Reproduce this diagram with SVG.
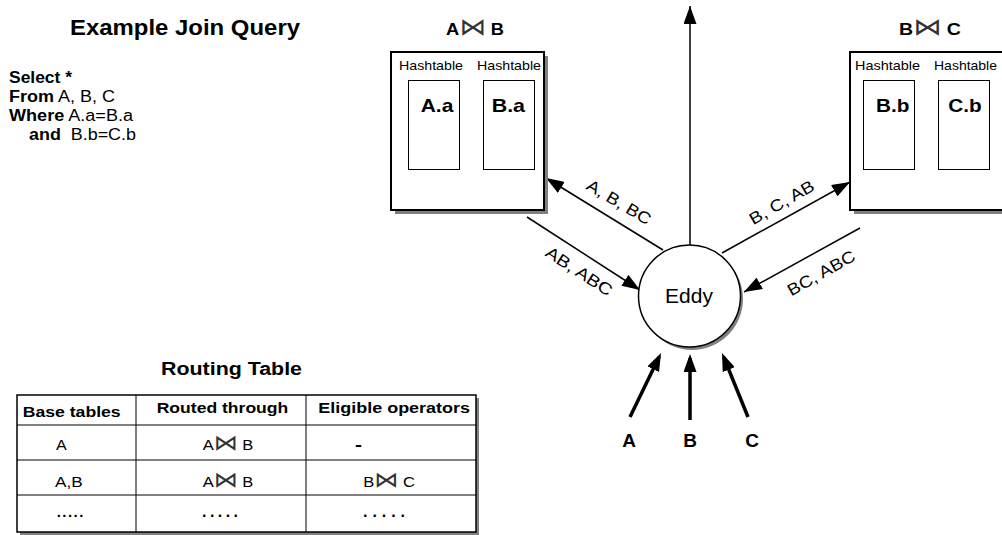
<svg xmlns="http://www.w3.org/2000/svg" width="1002" height="535" viewBox="0 0 1002 535">
<style>
text{font-family:"Liberation Sans",Arial,sans-serif;fill:#000}
.b{font-weight:bold}
.bt{font-family:"DejaVu Sans",sans-serif;font-weight:normal;font-size:1.45em;fill:#333}
.box{fill:#fff;stroke:#000;stroke-width:2}
.sh{fill:#808080}
.in{fill:#fff;stroke:#000;stroke-width:1}
.ln{stroke:#000;stroke-width:1.5;fill:none}
.th{stroke:#000;stroke-width:3.5;fill:none}
.tl{stroke:#000;stroke-width:1;fill:none}
</style>
<defs>
<marker id="ah" viewBox="0 0 18 13" refX="18" refY="6.5" markerWidth="18" markerHeight="13" markerUnits="userSpaceOnUse" orient="auto"><path d="M0,0 L18,6.5 L0,13 z" fill="#000"/></marker>
<marker id="ahT" viewBox="0 0 18 13" refX="14" refY="6.5" markerWidth="18" markerHeight="13" markerUnits="userSpaceOnUse" orient="auto"><path d="M0,0 L18,6.5 L0,13 z" fill="#000"/></marker>
</defs>

<g id="query">
<text class="b" x="70" y="35" font-size="22" textLength="230" lengthAdjust="spacingAndGlyphs">Example Join Query</text>
<text x="9" y="83" font-size="16" textLength="63" lengthAdjust="spacingAndGlyphs"><tspan class="b">Select *</tspan></text>
<text x="9" y="102" font-size="16" textLength="106" lengthAdjust="spacingAndGlyphs"><tspan class="b">From</tspan> A, B, C</text>
<text x="9" y="121" font-size="16" textLength="124" lengthAdjust="spacingAndGlyphs"><tspan class="b">Where</tspan> A.a=B.a</text>
<text x="29" y="140" font-size="16" textLength="107" lengthAdjust="spacingAndGlyphs" xml:space="preserve"><tspan class="b">and</tspan>  B.b=C.b</text>
</g>

<g id="connectors">
<line class="ln" x1="690" y1="245" x2="690" y2="6" marker-end="url(#ah)"/>
<line class="ln" x1="663" y1="250" x2="546" y2="178" marker-end="url(#ah)"/>
<line class="ln" x1="527" y1="217" x2="640" y2="290" marker-end="url(#ah)"/>
<line class="ln" x1="722" y1="253" x2="850" y2="182" marker-end="url(#ah)"/>
<line class="ln" x1="860" y1="228" x2="744" y2="292" marker-end="url(#ah)"/>
<line class="th" x1="630" y1="417" x2="659.3" y2="356.6" marker-end="url(#ahT)"/>
<line class="th" x1="690" y1="420" x2="690" y2="358" marker-end="url(#ahT)"/>
<line class="th" x1="748" y1="417" x2="723.5" y2="356.7" marker-end="url(#ahT)"/>
<text transform="translate(616,207) rotate(31)" x="-36" font-size="16.5" textLength="72" lengthAdjust="spacingAndGlyphs">A, B, BC</text>
<text transform="translate(576,276) rotate(33)" x="-38" font-size="16.5" textLength="76" lengthAdjust="spacingAndGlyphs">AB, ABC</text>
<text transform="translate(784.5,207.3) rotate(-30)" x="-36" font-size="16.5" textLength="72" lengthAdjust="spacingAndGlyphs">B, C, AB</text>
<text transform="translate(824,278) rotate(-29.5)" x="-37.5" font-size="16.5" textLength="75" lengthAdjust="spacingAndGlyphs">BC, ABC</text>
</g>

<g id="joinAB">
<text class="b" x="446" y="35" font-size="16.5" textLength="58" lengthAdjust="spacingAndGlyphs">A<tspan class="bt">⋈</tspan> B</text>
<rect class="sh" x="395" y="56" width="153" height="158"/>
<rect class="box" x="391" y="52" width="153" height="158"/>
<text x="399" y="70" font-size="13" textLength="64" lengthAdjust="spacingAndGlyphs">Hashtable</text>
<text x="477" y="70" font-size="13" textLength="64" lengthAdjust="spacingAndGlyphs">Hashtable</text>
<rect class="in" x="408.5" y="80.5" width="51" height="89"/>
<rect class="in" x="483.5" y="80.5" width="51" height="89"/>
<text class="b" x="420.7" y="111.7" font-size="19" textLength="32.6" lengthAdjust="spacingAndGlyphs">A.a</text>
<text class="b" x="491.7" y="111.7" font-size="19" textLength="33.3" lengthAdjust="spacingAndGlyphs">B.a</text>
</g>

<g id="joinBC">
<text class="b" x="899" y="35" font-size="16.5" textLength="62" lengthAdjust="spacingAndGlyphs">B<tspan class="bt">⋈</tspan> C</text>
<rect class="sh" x="854" y="56" width="153" height="158"/>
<rect class="box" x="850" y="52" width="153" height="158"/>
<text x="855" y="70" font-size="13" textLength="65" lengthAdjust="spacingAndGlyphs">Hashtable</text>
<text x="934" y="70" font-size="13" textLength="63" lengthAdjust="spacingAndGlyphs">Hashtable</text>
<rect class="in" x="863.5" y="80.5" width="51" height="89"/>
<rect class="in" x="938.5" y="80.5" width="51" height="89"/>
<text class="b" x="876" y="111.7" font-size="19" textLength="33.3" lengthAdjust="spacingAndGlyphs">B.b</text>
<text class="b" x="948.3" y="111.7" font-size="19" textLength="33.4" lengthAdjust="spacingAndGlyphs">C.b</text>
</g>

<g id="eddy">
<circle class="sh" cx="692" cy="299" r="51"/>
<circle cx="689.5" cy="296" r="51" fill="#fff" stroke="#000" stroke-width="1.5"/>
<text x="689" y="303" font-size="21" text-anchor="middle">Eddy</text>
</g>

<g id="inputs">
<text class="b" x="629" y="447" font-size="19" text-anchor="middle">A</text>
<text class="b" x="690" y="447" font-size="19" text-anchor="middle">B</text>
<text class="b" x="752" y="447" font-size="19" text-anchor="middle">C</text>
</g>

<g id="routingTable">
<text class="b" x="161" y="375" font-size="17.5" textLength="141" lengthAdjust="spacingAndGlyphs">Routing Table</text>
<rect class="sh" x="20" y="398" width="459" height="137"/>
<rect x="17" y="395" width="459" height="137" fill="#fff" stroke="#000" stroke-width="1.5"/>
<line class="tl" x1="136" y1="395" x2="136" y2="532"/>
<line class="tl" x1="306" y1="395" x2="306" y2="532"/>
<line class="tl" x1="17" y1="425" x2="476" y2="425"/>
<line class="tl" x1="17" y1="460" x2="476" y2="460"/>
<line class="tl" x1="17" y1="495" x2="476" y2="495"/>
<text class="b" x="22.7" y="417" font-size="15.5" textLength="98" lengthAdjust="spacingAndGlyphs">Base tables</text>
<text class="b" x="156.7" y="413" font-size="15.5" textLength="131.6" lengthAdjust="spacingAndGlyphs">Routed through</text>
<text class="b" x="318.3" y="413" font-size="15.5" textLength="151.7" lengthAdjust="spacingAndGlyphs">Eligible operators</text>
<text x="56" y="450" font-size="15" textLength="10.7" lengthAdjust="spacingAndGlyphs">A</text>
<text x="202.7" y="450" font-size="15" textLength="50.6" lengthAdjust="spacingAndGlyphs">A<tspan class="bt">⋈</tspan> B</text>
<text class="b" x="355" y="450" font-size="16" textLength="7" lengthAdjust="spacingAndGlyphs">-</text>
<text x="55" y="487" font-size="15" textLength="27.7" lengthAdjust="spacingAndGlyphs">A,B</text>
<text x="202.7" y="487" font-size="15" textLength="50.6" lengthAdjust="spacingAndGlyphs">A<tspan class="bt">⋈</tspan> B</text>
<text x="363.3" y="487" font-size="15" textLength="51.7" lengthAdjust="spacingAndGlyphs">B<tspan class="bt">⋈</tspan> C</text>
<text class="b" x="56.7" y="517" font-size="15" textLength="26.6" lengthAdjust="spacing">.....</text>
<text class="b" x="202" y="517" font-size="16" textLength="36" lengthAdjust="spacing">.....</text>
<text class="b" x="363" y="517" font-size="16" textLength="42" lengthAdjust="spacing">.....</text>
</g>
</svg>
